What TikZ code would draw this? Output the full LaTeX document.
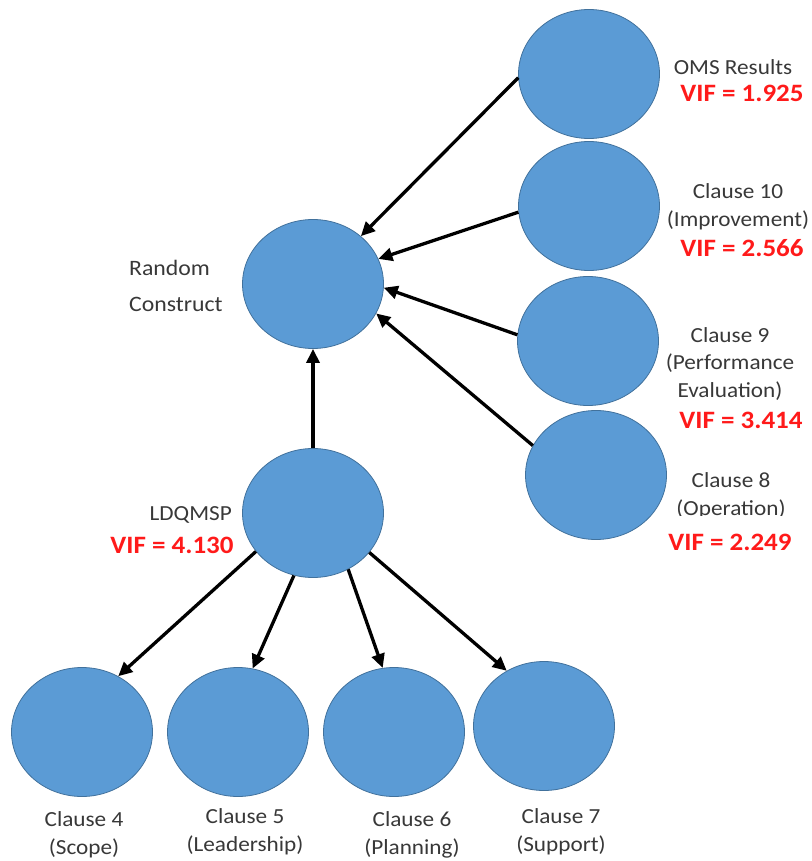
\documentclass[tikz,border=0pt]{standalone}
\usepackage{fontspec}
\setmainfont{Carlito}[FakeStretch=1.08]
\usetikzlibrary{shapes.geometric,arrows.meta}
\definecolor{nodeblue}{HTML}{5B9BD5}
\definecolor{nodeedge}{HTML}{41719C}
\definecolor{vifred}{HTML}{FF1A1A}
\definecolor{txtgray}{HTML}{383838}
\begin{document}
\begin{tikzpicture}[x=1pt,y=-1pt,
  construct/.style={ellipse, draw=nodeedge, line width=0.8pt, fill=nodeblue,
    minimum width=141pt, minimum height=129pt, inner sep=0pt},
  lbl/.style={text=txtgray, font=\fontsize{21.5}{27.5}\selectfont, align=center, inner sep=0pt},
  vif/.style={text=vifred, font=\bfseries\fontsize{25}{30}\selectfont, inner sep=0pt},
  link/.style={line width=3.3pt, -{Triangle[length=14pt,width=13pt]}}]
\useasboundingbox (0,0) rectangle (811,861);

% latent and observed constructs
\node[construct] (oms) at (589,74) {};
\node[construct] (c10) at (589,206) {};
\node[construct] (c9) at (588,341) {};
\node[construct] (c8) at (596,475) {};
\node[construct] (rc) at (313,284) {};
\node[construct] (ld) at (313,513) {};
\node[construct] (c4) at (82,732) {};
\node[construct] (c5) at (238,732) {};
\node[construct] (c6) at (394,732) {};
\node[construct] (c7) at (544,726) {};

% paths into the random construct
\draw[link] (oms.183) -- (rc.45);
\draw[link] (c10.185) -- (rc.21);
\draw[link] (c9.175) -- (rc.-3);
\draw[link] (c8.155) -- (rc.-25);
\draw[link] (ld.north) -- (rc.south);

% paths out of LDQMSP
\draw[link] (ld.-146) -- (c4.57);
\draw[link] (ld.-107) -- (c5.77);
\draw[link] (ld.-58) -- (c6.100);
\draw[link] (ld.-35) -- (c7.124);

% labels on the right
\node[lbl] (toms) at (733,67) {OMS Results};
\node[vif] (voms) at (742,93) {VIF = 1.925};
\node[lbl] (tc10) at (738,207) {Clause 10\\(Improvement)};
\node[vif] (vc10) at (742,248) {VIF = 2.566};
\node[lbl] (tc9) at (730,364) {Clause 9\\(Performance\\Evaluation)};
\node[vif] (vc9) at (741,420) {VIF = 3.414};
\node[lbl] (tc8) at (731,496) {Clause 8\\(Operation)};
% this value box is opaque and trims the line above it
\node[vif, fill=white, inner ysep=18pt] (vc8) at (730,542) {VIF = 2.249};

% labels on the left
\node[lbl, anchor=west, align=left, font=\fontsize{22}{36}\selectfont] (trc) at (129,286) {Random\\Construct};
\node[lbl, anchor=east] (tld) at (232,515) {LDQMSP};
\node[vif] (vld) at (172,545) {VIF = 4.130};

% labels under the clauses
\node[lbl] (tc4) at (84,835) {Clause 4\\(Scope)};
\node[lbl] (tc5) at (245,832) {Clause 5\\(Leadership)};
\node[lbl] (tc6) at (412,835) {Clause 6\\(Planning)};
\node[lbl] (tc7) at (561,832) {Clause 7\\(Support)};
\end{tikzpicture}
\end{document}
